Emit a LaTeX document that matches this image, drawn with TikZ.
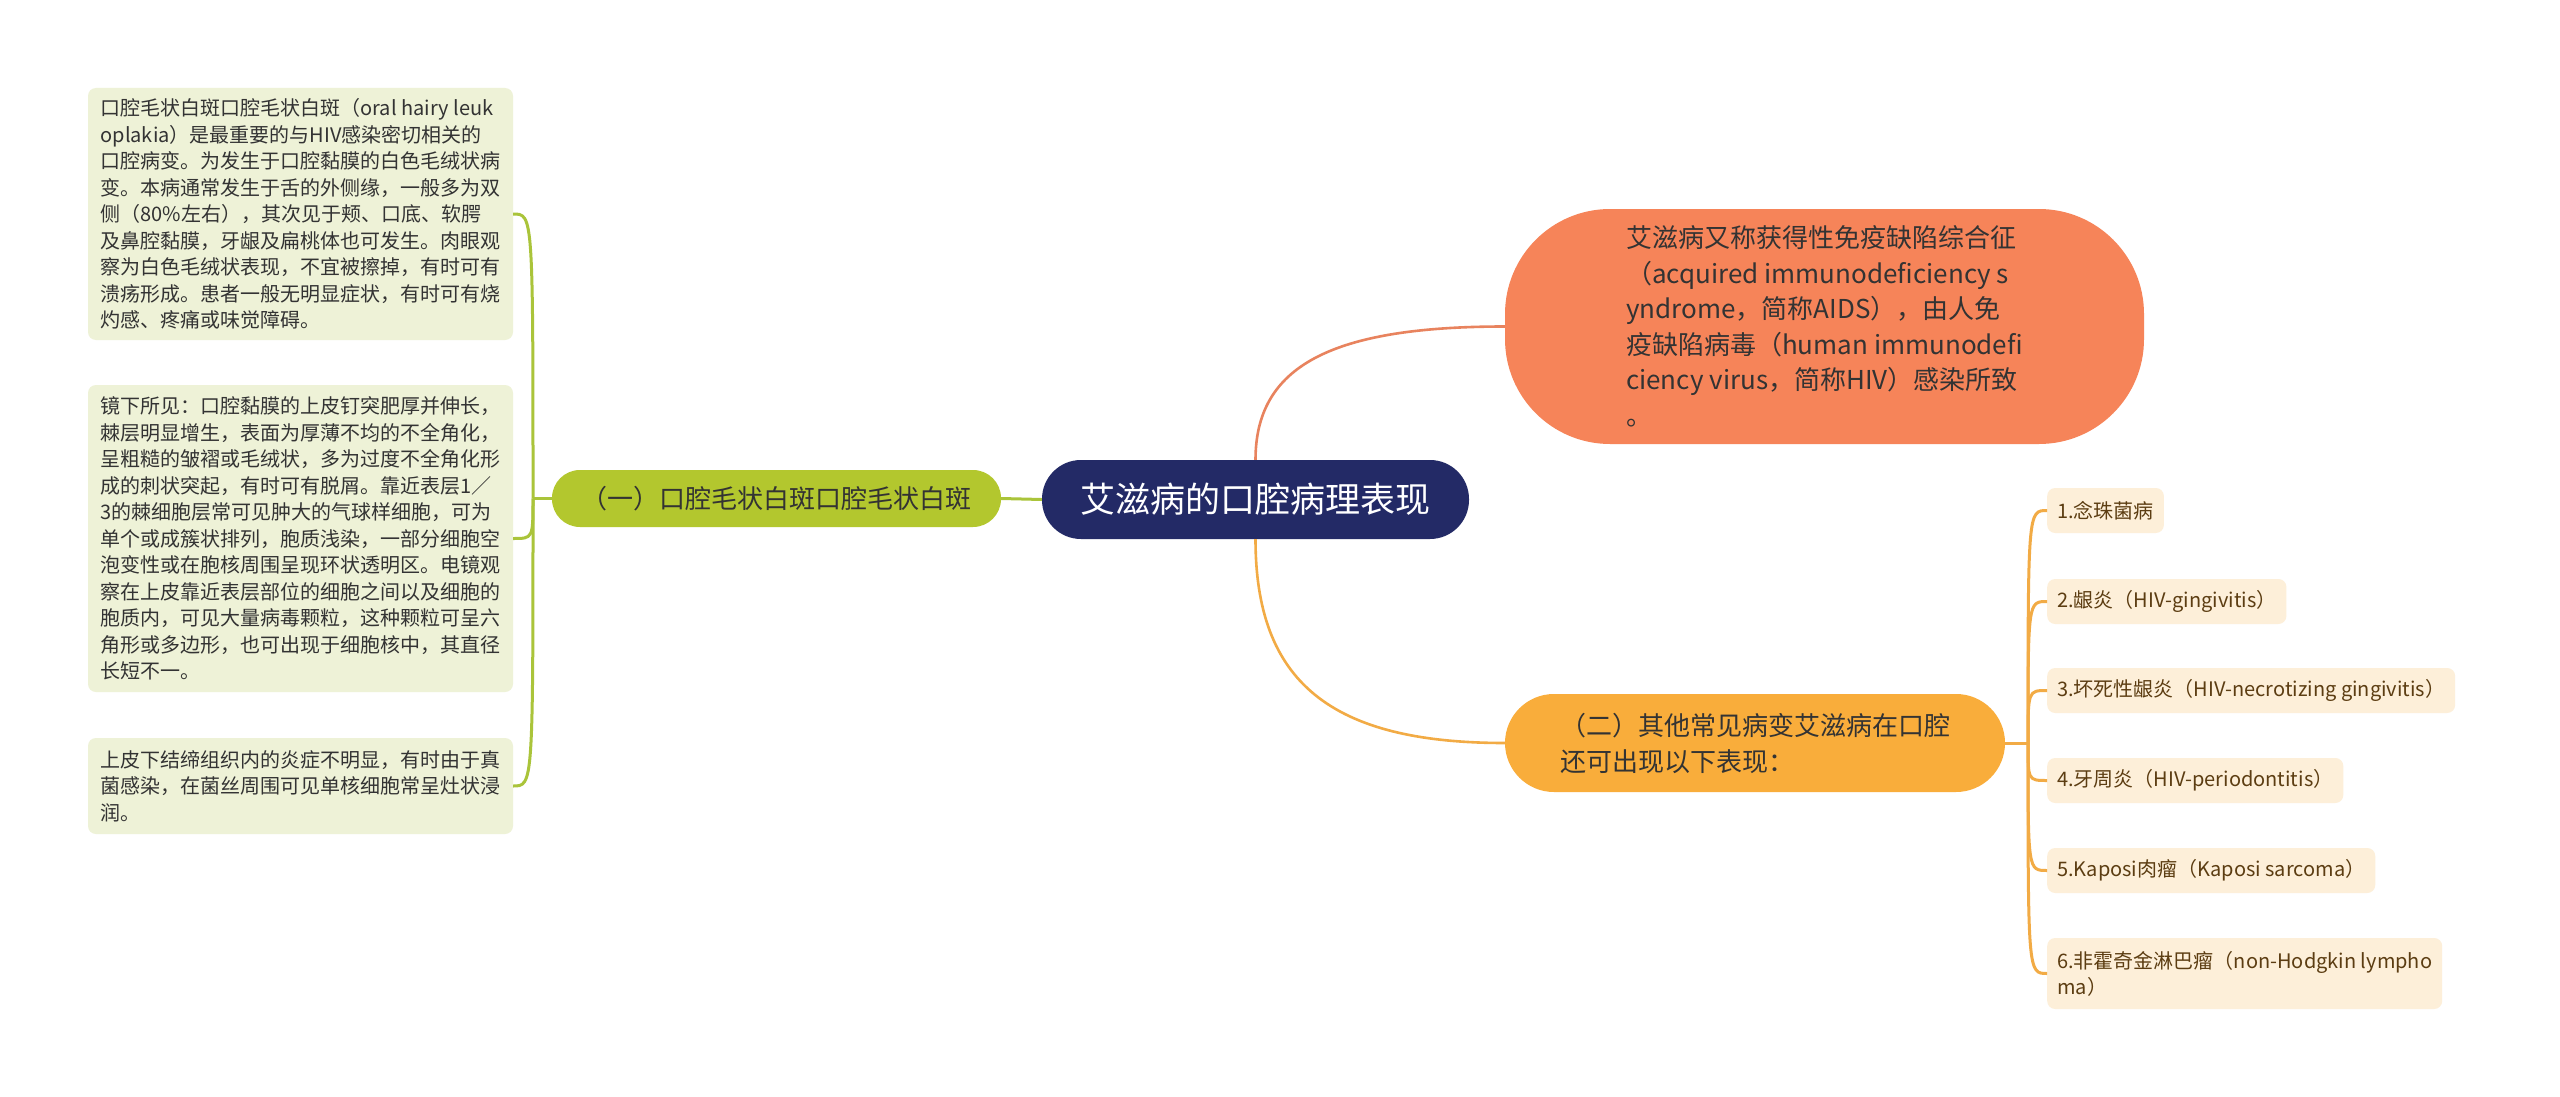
\documentclass[tikz,border=0pt]{standalone}
\usepackage{fontspec}
\setmainfont{Noto Sans CJK SC}
\usetikzlibrary{calc}

\definecolor{rootblue}{HTML}{232A66}
\definecolor{leafgreen}{HTML}{B3C72E}
\definecolor{notegreen}{HTML}{EEF2D7}
\definecolor{linegreen}{HTML}{AAC43A}
\definecolor{coral}{HTML}{F68459}
\definecolor{coralline}{HTML}{E8835E}
\definecolor{amber}{HTML}{F9AD3B}
\definecolor{amberline}{HTML}{F2AB45}
\definecolor{cream}{HTML}{FDEFD9}
\definecolor{creamtext}{HTML}{5C3D12}
\definecolor{darktext}{HTML}{333333}

\tikzset{
  rootbox/.style={fill=rootblue, text=white, rounded corners=39pt, inner sep=0pt,
    minimum width=427pt, minimum height=79pt, font=\fontsize{35}{42}\selectfont},
  branchbox/.style={inner sep=0pt, align=left, text=darktext, font=\fontsize{26}{36}\selectfont},
  notebox/.style={fill=notegreen, text=darktext, rounded corners=8pt, inner sep=0pt,
    minimum width=425pt, align=left, font=\fontsize{20}{26.5}\selectfont},
  itembox/.style={fill=cream, text=creamtext, rounded corners=8pt, anchor=west,
    inner xsep=10pt, inner ysep=0pt, minimum height=45pt, align=left,
    font=\fontsize{20}{26}\selectfont},
  trunk/.style={line width=3pt},
  curve/.style={line width=2.6pt}
}

\begin{document}
\begin{tikzpicture}[x=1pt,y=-1pt]
\fill[white] (0,0) rectangle (2560,1097);
\useasboundingbox (0,0) rectangle (2560,1097);

\node[rootbox] (root) at (1255.5,499.5) {艾滋病的口腔病理表现};

\node[branchbox, fill=leafgreen, rounded corners=28pt, minimum width=449pt, minimum height=57pt]
  (hairy) at (776.5,498.5) {（一）口腔毛状白斑口腔毛状白斑};
\node[branchbox, fill=coral, rounded corners=105pt, minimum width=639pt, minimum height=235pt,
  font=\fontsize{26}{35.5}\selectfont] (aids) at (1824.5,326.5)
  {艾滋病又称获得性免疫缺陷综合征\\（acquired immunodeficiency s\\yndrome，简称AIDS），由人免\\疫缺陷病毒（human immunodefi\\ciency virus，简称HIV）感染所致\\。};
\node[branchbox, fill=amber, rounded corners=49pt, minimum width=500pt, minimum height=98pt]
  (other) at (1755,743) {（二）其他常见病变艾滋病在口腔\\还可出现以下表现：};

% left notes
\node[notebox, minimum height=252pt] (note1) at (300.5,214)
  {口腔毛状白斑口腔毛状白斑（oral hairy leuk\\oplakia）是最重要的与HIV感染密切相关的\\口腔病变。为发生于口腔黏膜的白色毛绒状病\\变。本病通常发生于舌的外侧缘，一般多为双\\侧（80\%左右），其次见于颊、口底、软腭\\及鼻腔黏膜，牙龈及扁桃体也可发生。肉眼观\\察为白色毛绒状表现，不宜被擦掉，有时可有\\溃疡形成。患者一般无明显症状，有时可有烧\\灼感、疼痛或味觉障碍。};
\node[notebox, minimum height=307pt] (note2) at (300.5,538.5)
  {镜下所见：口腔黏膜的上皮钉突肥厚并伸长，\\棘层明显增生，表面为厚薄不均的不全角化，\\呈粗糙的皱褶或毛绒状，多为过度不全角化形\\成的刺状突起，有时可有脱屑。靠近表层1／\\3的棘细胞层常可见肿大的气球样细胞，可为\\单个或成簇状排列，胞质浅染，一部分细胞空\\泡变性或在胞核周围呈现环状透明区。电镜观\\察在上皮靠近表层部位的细胞之间以及细胞的\\胞质内，可见大量病毒颗粒，这种颗粒可呈六\\角形或多边形，也可出现于细胞核中，其直径\\长短不一。};
\node[notebox, minimum height=96pt] (note3) at (300.5,786)
  {上皮下结缔组织内的炎症不明显，有时由于真\\菌感染，在菌丝周围可见单核细胞常呈灶状浸\\润。};

% right items
\node[itembox] (item1) at (2047,510.5) {1.念珠菌病};
\node[itembox] (item2) at (2047,601.5) {2.龈炎（HIV-gingivitis）};
\node[itembox] (item3) at (2047,690.5) {3.坏死性龈炎（HIV-necrotizing gingivitis）};
\node[itembox] (item4) at (2047,780.5) {4.牙周炎（HIV-periodontitis）};
\node[itembox] (item5) at (2047,870.5) {5.Kaposi肉瘤（Kaposi sarcoma）};
\node[itembox, minimum height=71pt] (item6) at (2047,973.5) {6.非霍奇金淋巴瘤（non-Hodgkin lympho\\ma）};

% root links
\coordinate (topbend) at (root.north |- aids.west);
\coordinate (botbend) at (root.south |- other.west);
\draw[curve, coralline] (root.north) .. controls ($(root.north)!0.7!(topbend)$) and ($(aids.west)!0.7!(topbend)$) .. (aids.west);
\draw[curve, amberline] (root.south) .. controls ($(root.south)!0.7!(botbend)$) and ($(other.west)!0.7!(botbend)$) .. (other.west);
\draw[trunk, linegreen] (root.west) -- (hairy.east);

% left fork
\coordinate (lfork) at (533,498.5);
\draw[trunk, linegreen] (hairy.west) -- (lfork);
\foreach \n in {note1,note2,note3}
  \draw[trunk, linegreen] (lfork) .. controls (lfork |- \n.east) and (lfork |- \n.east) .. (\n.east);

% right fork
\coordinate (rfork) at (2028,743);
\draw[trunk, amberline] (other.east) -- (rfork);
\foreach \n in {item1,item2,item3,item4,item5,item6}
  \draw[trunk, amberline] (rfork) .. controls (rfork |- \n.west) and (rfork |- \n.west) .. (\n.west);
\end{tikzpicture}
\end{document}
